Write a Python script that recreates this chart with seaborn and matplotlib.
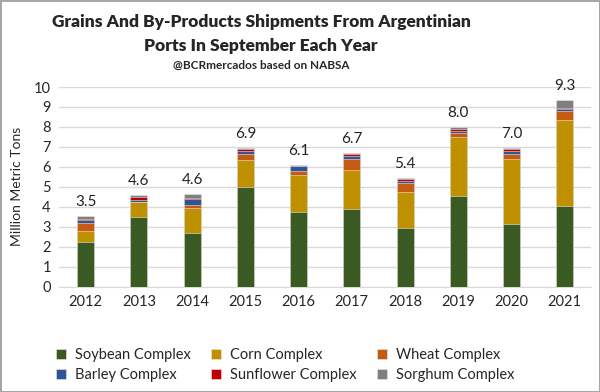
import numpy as np
import matplotlib
matplotlib.use("Agg")
import matplotlib.pyplot as plt
import seaborn as sns

years = ["2012", "2013", "2014", "2015", "2016", "2017", "2018", "2019", "2020", "2021"]
soybean = [2.26, 3.47, 2.71, 4.97, 3.72, 3.87, 2.96, 4.56, 3.15, 4.06]
corn = [0.55, 0.75, 1.24, 1.36, 1.86, 1.96, 1.76, 2.94, 3.27, 4.27]
wheat = [0.39, 0.03, 0.14, 0.34, 0.23, 0.57, 0.48, 0.21, 0.23, 0.47]
barley = [0.15, 0.10, 0.32, 0.13, 0.22, 0.13, 0.11, 0.11, 0.13, 0.08]
sunflower = [0.05, 0.12, 0.05, 0.08, 0.00, 0.12, 0.10, 0.09, 0.10, 0.08]
sorghum = [0.12, 0.13, 0.18, 0.07, 0.05, 0.03, 0.04, 0.10, 0.07, 0.39]
totals = [3.5, 4.6, 4.6, 6.9, 6.1, 6.7, 5.4, 8.0, 7.0, 9.3]

series = ["Soybean Complex", "Corn Complex", "Wheat Complex",
          "Barley Complex", "Sunflower Complex", "Sorghum Complex"]
values = [soybean, corn, wheat, barley, sunflower, sorghum]
colors = ["#3A5A24", "#BF9000", "#C55A11", "#2F5597", "#C00000", "#7F7F7F"]

sns.set_style("white")
plt.rcParams["font.family"] = ["Lato", "DejaVu Sans"]

fig = plt.figure(figsize=(6, 3.92), dpi=100, linewidth=2, edgecolor="#A6A6A6")
ax = fig.add_axes([0.0985, 0.2686, 0.887, 0.5094])

# stacked bars: draw cumulative sums from the top layer down
cum = np.cumsum(np.array(values), axis=0)
for i in range(len(series) - 1, -1, -1):
    sns.barplot(x=years, y=cum[i], color=colors[i], width=0.32, saturation=1,
                ax=ax, label=series[i], zorder=3, edgecolor="#E8E8E8", linewidth=0.4)

ax.bar_label(ax.containers[0], labels=[f"{t:.1f}" for t in totals],
             padding=5, fontsize=11, color="#222222")

ax.set_ylim(0, 10)
ax.set_xlim(-0.5, 9.5)
ax.set_yticks(range(0, 11))
ax.grid(axis="y", color="#D9D9D9", linewidth=1, zorder=0)
for s in ["top", "right", "left"]:
    ax.spines[s].set_visible(False)
ax.spines["bottom"].set_color("#D9D9D9")
ax.tick_params(axis="both", length=0, labelsize=10.5, colors="#262626", pad=6)
ax.set_xlabel("")
ax.set_ylabel("Million Metric Tons", fontsize=10, color="#262626", labelpad=8)

fig.text(0.435, 0.945, "Grains And By-Products Shipments From Argentinian",
         ha="center", va="center", fontsize=12.5, fontweight="heavy")
fig.text(0.435, 0.883, "Ports In September Each Year",
         ha="center", va="center", fontsize=12.5, fontweight="heavy")
fig.text(0.435, 0.832, "@BCRmercados based on NABSA",
         ha="center", va="center", fontsize=8.5, fontweight="bold")

handles, labels = ax.get_legend_handles_labels()
lookup = dict(zip(labels, handles))
order = ["Soybean Complex", "Barley Complex", "Corn Complex",
         "Sunflower Complex", "Wheat Complex", "Sorghum Complex"]
ax.legend([lookup[o] for o in order], order, ncol=3, frameon=False,
          loc="upper left", bbox_to_anchor=(-0.031, -0.24), fontsize=10.5,
          handlelength=0.7, handleheight=0.7, handletextpad=0.6,
          columnspacing=1.4, labelspacing=0.45)

fig.savefig("out.png", dpi=100)
